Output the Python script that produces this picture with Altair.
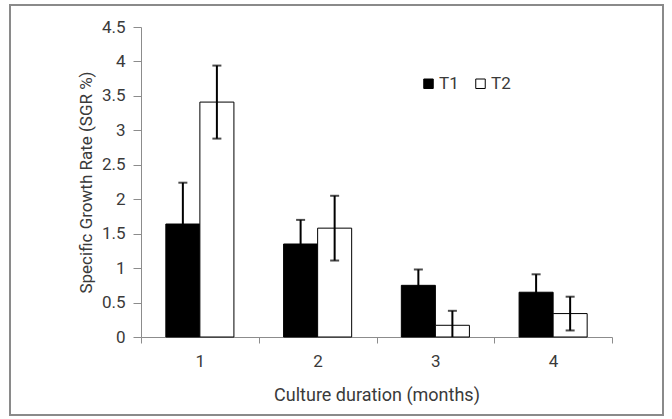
import altair as alt
import pandas as pd

months = ["1", "2", "3", "4"]
t1_mean = [1.64, 1.35, 0.75, 0.65]
t1_err = [0.60, 0.35, 0.23, 0.26]
t2_mean = [3.41, 1.58, 0.17, 0.34]
t2_err = [0.53, 0.47, 0.21, 0.245]
series = ["T1", "T2"]
y_ticks = [0, 0.5, 1, 1.5, 2, 2.5, 3, 3.5, 4, 4.5]

rows = []
for m, a, ea, b, eb in zip(months, t1_mean, t1_err, t2_mean, t2_err):
    rows.append({"month": m, "group": "T1", "mean": a, "lo": a - ea, "hi": a + ea})
    rows.append({"month": m, "group": "T2", "mean": b, "lo": b - eb, "hi": b + eb})
df = pd.DataFrame(rows)

FONT = "Roboto"
FS = 17
TXT = "#3a3a3a"
GRID = "#8c8c8c"

x_axis = alt.Axis(
    title="Culture duration (months)",
    labelAngle=0,
    tickBand="extent",
    tickSize=6,
    domainColor=GRID,
    tickColor=GRID,
    labelPadding=10,
    titlePadding=17,
    titleFontSize=18,
)
x_scale = alt.Scale(paddingInner=0, paddingOuter=0)
y_axis = alt.Axis(
    title="Specific Growth Rate (SGR %)",
    values=y_ticks,
    format="~g",
    grid=False,
    labelOverlap=False,
    labelBound=False,
    tickSize=8,
    domainColor=GRID,
    tickColor=GRID,
    labelPadding=8,
    titlePadding=6,
)
y_scale = alt.Scale(domain=[0, 4.5], nice=False)


def X():
    return alt.X("month:N", scale=x_scale, axis=x_axis)


def XO():
    return alt.XOffset("group:N", scale=alt.Scale(domain=series, paddingOuter=0.73, paddingInner=0))


def Y(field):
    return alt.Y(field, scale=y_scale, axis=y_axis)


base = alt.Chart(df)

bars = base.mark_bar(stroke="black", strokeWidth=1).encode(
    x=X(),
    xOffset=XO(),
    y=Y("mean:Q"),
    fill=alt.Fill(
        "group:N",
        scale=alt.Scale(domain=series, range=["black", "white"]),
        legend=alt.Legend(
            title=None,
            orient="none",
            legendX=279,
            legendY=48,
            direction="horizontal",
            symbolType="square",
            symbolSize=90,
            symbolStrokeColor="black",
            symbolStrokeWidth=1,
            labelOffset=2,
            columnPadding=13,
            labelFont=FONT,
            labelFontSize=FS,
            labelColor=TXT,
        ),
    ),
)

err = base.mark_rule(color="black", strokeWidth=2, clip=True).encode(
    x=X(), xOffset=XO(), y=Y("lo:Q"), y2="hi:Q"
)
cap_hi = base.mark_tick(color="black", thickness=2, size=9, clip=True).encode(
    x=X(), xOffset=XO(), y=Y("hi:Q")
)
cap_lo = base.mark_tick(color="black", thickness=2, size=9, clip=True).encode(
    x=X(), xOffset=XO(), y=Y("lo:Q")
)

border = alt.Chart(pd.DataFrame({"k": [0]})).mark_rect(
    fill=None, stroke="#8a8a8a", strokeWidth=2
).encode(
    x=alt.value(-131), x2=alt.value(522), y=alt.value(-22), y2=alt.value(388)
)

chart = (
    alt.layer(border, bars, err, cap_hi, cap_lo)
    .properties(
        width=471,
        height=310,
        autosize=alt.AutoSizeParams(type="none"),
        padding={"left": 141, "top": 27, "right": 60, "bottom": 82},
        background="white",
    )
    .configure_view(stroke=None)
    .configure_axis(
        labelFont=FONT,
        titleFont=FONT,
        labelFontSize=FS,
        titleFontSize=FS,
        labelColor=TXT,
        titleColor=TXT,
        titleFontWeight="normal",
    )
)

chart.save("out.html", embed_options={"renderer": "svg", "actions": False})
